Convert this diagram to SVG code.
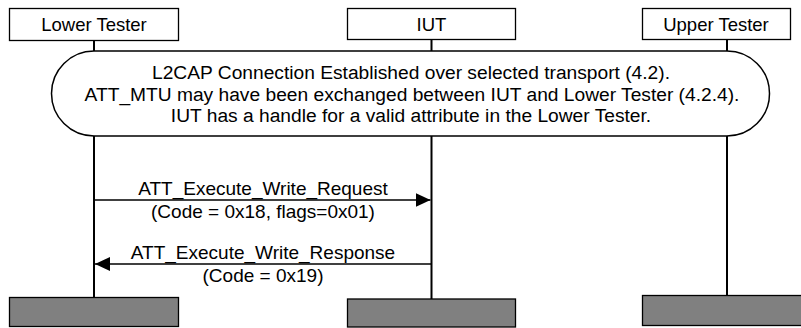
<svg xmlns="http://www.w3.org/2000/svg" width="801" height="328" viewBox="0 0 801 328">
<defs>
<style>
text{font-family:"Liberation Sans",Arial,sans-serif;font-size:18.5px;fill:#000;text-anchor:middle}
.body{font-size:19.2px}
.lbl{font-size:19px}
.hdr{fill:#fff;stroke:#000;stroke-width:1.3}
.foot{fill:#808080;stroke:#000;stroke-width:1.3}
.life{stroke:#000;stroke-width:2;fill:none}
.msg{stroke:#000;stroke-width:1.5;fill:none}
</style>
<marker id="ah" viewBox="0 0 15 14" refX="15" refY="7" markerWidth="15" markerHeight="14" markerUnits="userSpaceOnUse" orient="auto">
<path d="M0,0 L15,7 L0,14 Z" fill="#000"/>
</marker>
</defs>
<rect width="801" height="328" fill="#fff"/>
<g id="lifelines">
<line class="life" x1="94" y1="40" x2="94" y2="297"/>
<line class="life" x1="431.5" y1="40" x2="431.5" y2="299"/>
<line class="life" x1="727" y1="40" x2="727" y2="295"/>
</g>
<g id="node-lower">
<rect class="hdr" x="9.5" y="8.5" width="169" height="32"/>
<text x="94" y="30.5">Lower Tester</text>
<rect class="foot" x="9.5" y="297.5" width="169" height="29"/>
</g>
<g id="node-iut">
<rect class="hdr" x="347.5" y="8.5" width="168" height="31"/>
<text x="431.5" y="30.5">IUT</text>
<rect class="foot" x="347.5" y="299" width="168" height="28"/>
</g>
<g id="node-upper">
<rect class="hdr" x="642.5" y="8.5" width="148" height="31"/>
<text x="716" y="30.5">Upper Tester</text>
<rect class="foot" x="642.5" y="295.5" width="170" height="30"/>
</g>
<g id="node-condition">
<path d="M94,51 H727 A42.5,42.5 0 0 1 727,136 H94 A42.5,42.5 0 0 1 94,51 Z" fill="#fff" stroke="#000" stroke-width="1.5"/>
<text class="body" x="411" y="79">L2CAP Connection Established over selected transport (4.2).</text>
<text class="body" x="412" y="101">ATT_MTU may have been exchanged between IUT and Lower Tester (4.2.4).</text>
<text class="body" x="411" y="122">IUT has a handle for a valid attribute in the Lower Tester.</text>
</g>
<g id="connectors">
<line class="msg" x1="95" y1="200" x2="430.5" y2="200" marker-end="url(#ah)"/>
<text class="lbl" x="263" y="195">ATT_Execute_Write_Request</text>
<text class="lbl" x="263" y="218">(Code = 0x18, flags=0x01)</text>
<line class="msg" x1="431" y1="264" x2="95" y2="264" marker-end="url(#ah)"/>
<text class="lbl" x="263" y="259">ATT_Execute_Write_Response</text>
<text class="lbl" x="263" y="282">(Code = 0x19)</text>
</g>
</svg>
